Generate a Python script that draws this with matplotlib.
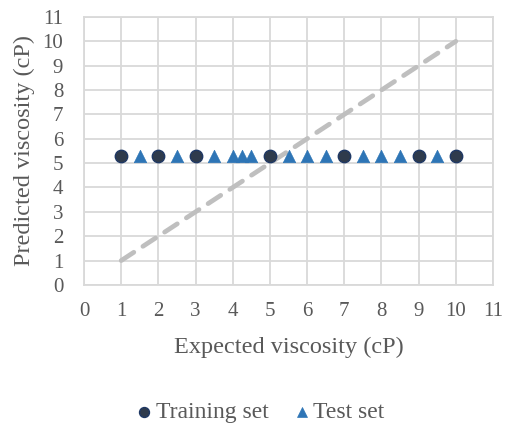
import matplotlib
matplotlib.use("Agg")
import matplotlib.pyplot as plt

# training / test points (expected vs predicted viscosity, cP)
train_x = [1, 2, 3, 5, 7, 9, 10]
train_y = [5.28, 5.28, 5.28, 5.28, 5.28, 5.28, 5.28]
test_x = [1.5, 2.5, 3.5, 4, 4.25, 4.5, 5.5, 6, 6.5, 7.5, 8, 8.5, 9.5]
test_y = [5.28] * 13
ideal_x = [1, 10]
ideal_y = [1, 10]
ticks = list(range(0, 12))

plt.rcParams['font.family'] = ['Liberation Serif', 'DejaVu Serif']
grey_text = '#595959'
grid_col = '#D9D9D9'

fig = plt.figure(figsize=(5.1, 4.24), dpi=100)
ax = fig.add_axes([0.1647, 0.328, 0.802, 0.632])

ax.plot(ideal_x, ideal_y, color='#BFBFBF', linewidth=3.4, dashes=(3.2, 2.3),
        dash_capstyle='round', zorder=2)
ax.scatter(train_x, train_y, s=80, marker='o', color='#2F3B4C',
           edgecolors='#1F3864', linewidths=1.0, zorder=3, label='Training set')
ax.scatter(test_x, test_y, s=80, marker='^', color='#2E75B6',
           edgecolors='#2E75B6', linewidths=0.5, zorder=3, label='Test set')

ax.set_xlim(0, 11)
ax.set_ylim(0, 11)
ax.set_xticks(ticks)
ax.set_yticks(ticks)
ax.grid(True, color=grid_col, linewidth=1.3)
ax.set_axisbelow(True)
for s in ax.spines.values():
    s.set_color(grid_col)
    s.set_linewidth(1.3)
ax.tick_params(length=0, labelsize=15, colors=grey_text)
ax.tick_params(axis='x', pad=12)
ax.tick_params(axis='y', pad=15)

ax.set_xlabel('Expected viscosity (cP)', fontsize=17.5, color=grey_text, labelpad=12)
ax.set_ylabel('Predicted viscosity (cP)', fontsize=17.5, color=grey_text, labelpad=5)

fig.legend(loc='center', bbox_to_anchor=(0.51, 0.028), ncol=2, frameon=False,
           fontsize=17, labelcolor=grey_text, handlelength=0.7, handletextpad=0.15,
           columnspacing=1.05, markerscale=0.8)

fig.savefig('out.png', dpi=100)
plt.close(fig)
